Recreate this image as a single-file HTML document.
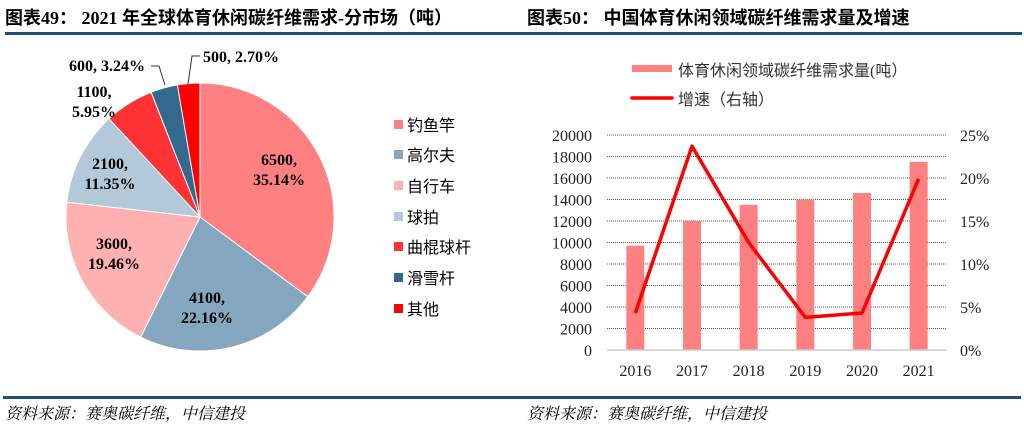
<!DOCTYPE html>
<html><head><meta charset="utf-8">
<style>
body{margin:0;width:1024px;height:424px;background:#fff;overflow:hidden;}
svg{display:block}
</style></head><body>
<svg id="s" width="1024" height="424" xmlns="http://www.w3.org/2000/svg" font-family="'Liberation Serif','Noto Serif CJK SC',serif">
<text x="5" y="24" font-size="18" font-weight="bold" font-family="'Liberation Serif','Noto Sans CJK SC',serif">图表49：  2021 年全球体育休闲碳纤维需求-分市场（吨）</text>
<text x="527" y="24" font-size="18" font-weight="bold" font-family="'Liberation Serif','Noto Sans CJK SC',serif">图表50：  中国体育休闲领域碳纤维需求量及增速</text>
<rect x="5" y="32" width="1017" height="3" fill="#1F4E79"/>
<rect x="3" y="396" width="1018" height="3" fill="#1F4E79"/>
<text x="5" y="419" font-size="16" font-style="italic" font-family="'Liberation Serif','Noto Serif CJK SC',serif">资料来源：赛奥碳纤维，中信建投</text>
<text x="527" y="419" font-size="16" font-style="italic" font-family="'Liberation Serif','Noto Serif CJK SC',serif">资料来源：赛奥碳纤维，中信建投</text>
<g id="pie"></g>
<g font-size="16" font-weight="bold" text-anchor="middle">
<text x="279" y="165">6500,</text><text x="279" y="185">35.14%</text>
<text x="207" y="303">4100,</text><text x="207" y="323">22.16%</text>
<text x="114" y="249">3600,</text><text x="114" y="269">19.46%</text>
<text x="110" y="169">2100,</text><text x="110" y="189">11.35%</text>
<text x="94" y="97">1100,</text><text x="94" y="117">5.95%</text>
<text x="145" y="71" text-anchor="end">600, 3.24%</text>
<text x="203" y="62" text-anchor="start">500, 2.70%</text>
</g>
<polyline points="151,66 159,66 165,85" fill="none" stroke="#333" stroke-width="1"/>
<polyline points="200,56 192,56 188,84" fill="none" stroke="#333" stroke-width="1"/>
<g font-size="16" font-family="'Liberation Serif','Noto Sans CJK SC',serif">
<rect x="394" y="120" width="9" height="9" fill="#FF8080"/><text x="407" y="131">钓鱼竿</text>
<rect x="394" y="150" width="9" height="9" fill="#84A6BF"/><text x="407" y="161">高尔夫</text>
<rect x="394" y="181" width="9" height="9" fill="#FFB0B0"/><text x="407" y="192">自行车</text>
<rect x="394" y="212" width="9" height="9" fill="#B3C8D8"/><text x="407" y="223">球拍</text>
<rect x="394" y="242" width="9" height="9" fill="#FF3333"/><text x="407" y="253">曲棍球杆</text>
<rect x="394" y="273" width="9" height="9" fill="#34698F"/><text x="407" y="284">滑雪杆</text>
<rect x="394" y="304" width="9" height="9" fill="#FF0000"/><text x="407" y="315">其他</text>
</g>
<rect x="632" y="65" width="40" height="7" fill="#FF8080"/>
<text x="678" y="76" font-size="16" fill="#333" font-family="'Liberation Serif','Noto Sans CJK SC',serif">体育休闲领域碳纤维需求量(吨）</text>
<line x1="632" y1="98" x2="672" y2="98" stroke="#F00" stroke-width="3.5" stroke-linecap="round"/>
<text x="678" y="105" font-size="16" fill="#333" font-family="'Liberation Serif','Noto Sans CJK SC',serif">增速（右轴）</text>
<g id="bar"></g>
</svg>
<script>
var ns="http://www.w3.org/2000/svg";
function el(p,t,a,txt){var e=document.createElementNS(ns,t);for(var k in a)e.setAttribute(k,a[k]);if(txt!=null)e.textContent=txt;p.appendChild(e);return e;}
var pie=document.getElementById('pie');
var vals=[35.14,22.16,19.46,11.35,5.95,3.24,2.70];
var cols=['#FF8080','#84A6BF','#FFB0B0','#B3C8D8','#FF3333','#34698F','#FF0000'];
var cx=200,cy=217,r=134,a=0,tot=100;
vals.forEach(function(v,i){
 var a0=a/tot*2*Math.PI,a1=(a+v)/tot*2*Math.PI;a+=v;
 var x0=cx+r*Math.sin(a0),y0=cy-r*Math.cos(a0),x1=cx+r*Math.sin(a1),y1=cy-r*Math.cos(a1);
 el(pie,'path',{d:'M'+cx+','+cy+'L'+x0+','+y0+'A'+r+','+r+' 0 '+((a1-a0)>Math.PI?1:0)+' 1 '+x1+','+y1+'Z',fill:cols[i],stroke:'#fff','stroke-width':1});
});
var g=document.getElementById('bar');
var x0=607,x1=947,y0=350,sc=10.75/1000;
for(var k=0;k<=10;k++){
 var y=y0-k*2000*sc;
 if(k>0) el(g,'line',{x1:x0,y1:y,x2:x1,y2:y,stroke:'#555','stroke-width':1,'stroke-dasharray':'1,1'});
 el(g,'text',{x:592,y:y+6,'font-size':16,'text-anchor':'end',fill:'#222'},String(k*2000));
}
for(var k=0;k<=5;k++){
 var y=y0-k*43;
 el(g,'text',{x:960,y:y+6,'font-size':16,fill:'#222'},(k*5)+'%');
}
var bars=[9700,12000,13500,14000,14600,17500],yrs=['2016','2017','2018','2019','2020','2021'];
var gr=[4.3,23.7,12.5,3.8,4.3,19.9];
var cw=(x1-x0)/6,pts=[];
bars.forEach(function(b,i){
 var cxx=x0+cw*(i+0.5),h=b*sc;
 el(g,'rect',{x:cxx-9,y:y0-h,width:18,height:h,fill:'#FF8080'});
 el(g,'text',{x:cxx,y:376,'font-size':16,'text-anchor':'middle',fill:'#222'},yrs[i]);
 pts.push(cxx+','+(y0-gr[i]*8.6));
});
el(g,'line',{x1:x0,y1:y0,x2:x1,y2:y0,stroke:'#ccc','stroke-width':1.5});
el(g,'polyline',{points:pts.join(' '),fill:'none',stroke:'#F00','stroke-width':3.5,'stroke-linejoin':'round'});
</script>
</body></html>
